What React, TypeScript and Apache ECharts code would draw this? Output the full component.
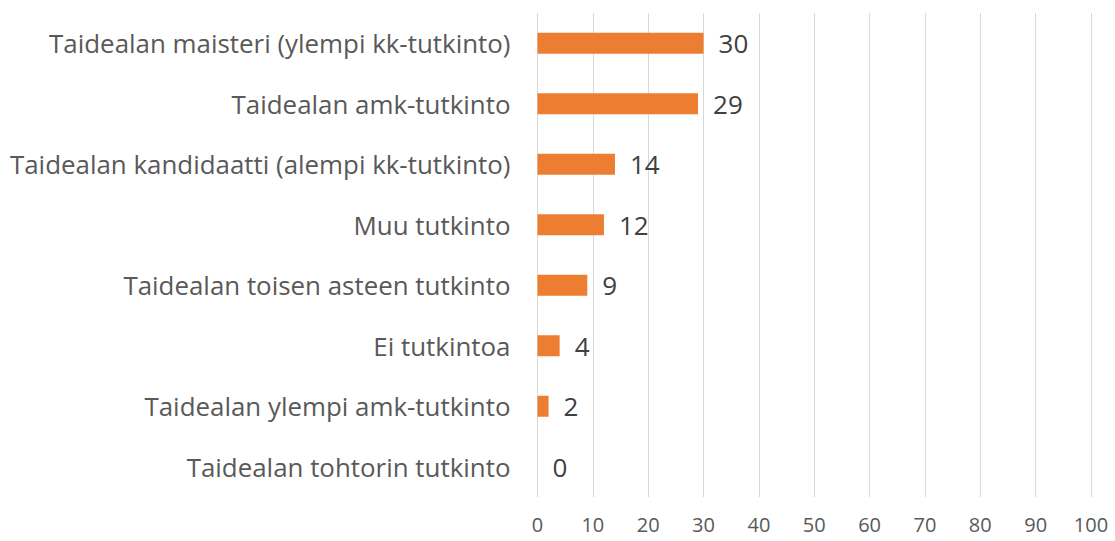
import React, { useEffect, useRef } from "react";
import * as echarts from "echarts";

const categories = [
  "Taidealan maisteri (ylempi kk-tutkinto)",
  "Taidealan amk-tutkinto",
  "Taidealan kandidaatti (alempi kk-tutkinto)",
  "Muu tutkinto",
  "Taidealan toisen asteen tutkinto",
  "Ei tutkintoa",
  "Taidealan ylempi amk-tutkinto",
  "Taidealan tohtorin tutkinto",
];
const values = [30, 29, 14, 12, 9, 4, 2, 0];

export default function App() {
  const ref = useRef<HTMLDivElement>(null);
  useEffect(() => {
    if (!ref.current) return;
    const chart = echarts.init(ref.current, null, { renderer: "svg" });
    chart.setOption({
      animation: false,
      grid: { left: 537.5, right: 24, top: 13, bottom: 44, containLabel: false },
      xAxis: {
        type: "value",
        min: 0,
        max: 100,
        interval: 10,
        axisLine: { show: false },
        axisTick: { show: false },
        splitLine: { lineStyle: { color: "#d9d9d9", width: 1 } },
        axisLabel: {
          color: "#595959",
          fontSize: 20,
          fontFamily: "Open Sans",
          margin: 17,
        },
      },
      yAxis: {
        type: "category",
        data: categories,
        inverse: true,
        axisLine: { show: false },
        axisTick: { show: false },
        axisLabel: {
          color: "#595959",
          fontSize: 25.9,
          fontFamily: "Open Sans",
          margin: 27,
        },
      },
      series: [
        {
          type: "bar",
          data: values,
          barWidth: 21,
          itemStyle: { color: "#ED7D31" },
          label: {
            show: true,
            position: "right",
            distance: 15,
            color: "#404040",
            fontSize: 26,
            fontFamily: "Open Sans",
          },
        },
      ],
    });
    return () => chart.dispose();
  }, []);
  return (
    <div
      ref={ref}
      style={{ position: "absolute", left: 0, top: 0, width: 1115, height: 541, background: "#fff" }}
    />
  );
}
